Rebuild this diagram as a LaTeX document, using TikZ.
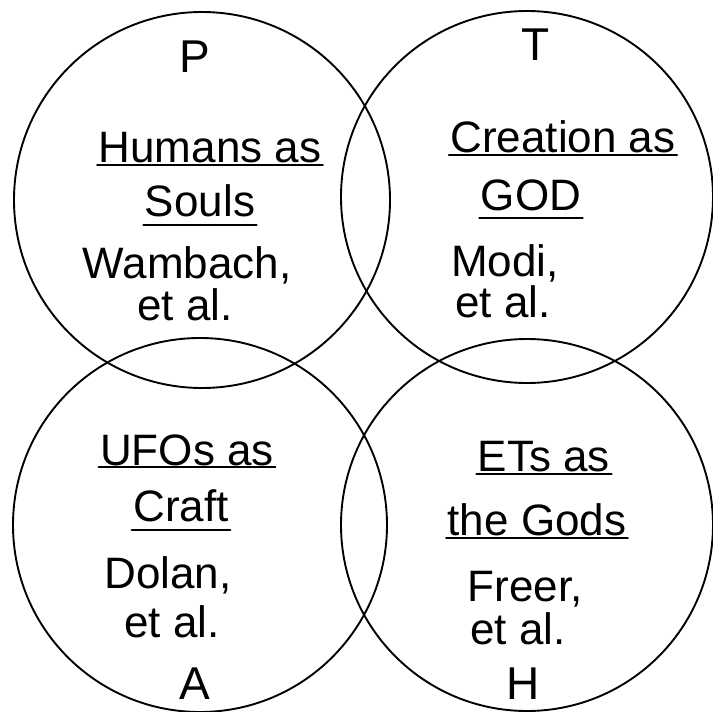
\documentclass[tikz,border=0pt]{standalone}
\usepackage{fontspec}
\setmainfont{Liberation Sans}
\usepackage{tikz}

\tikzset{
  venn/.style={draw, circle, line width=1.9pt, inner sep=0pt},
  hand/.style={inner sep=1.5pt, font=\fontsize{44}{48}\selectfont},
  letter/.style={inner sep=1.5pt, font=\fontsize{46}{50}\selectfont},
  uline/.style={line width=1.8pt, line cap=round}
}

\begin{document}
\begin{tikzpicture}[x=1pt, y=-1pt]

\useasboundingbox (0,0) rectangle (713,712);

% the four sets
\node[venn, minimum size=376pt] (pset) at (202,200) {};
\node[venn, minimum size=372pt] (tset) at (527,197) {};
\node[venn, minimum size=374pt] (aset) at (200,525) {};
\node[venn, minimum size=372pt] (hset) at (527,525) {};

% top left
\node[letter] (p) at (195,57) {P};
\node[hand] (humans) at (210,148) {Humans as};
\node[hand] (souls) at (200,201) {Souls};
\node[hand] (wambach) at (187,265) {Wambach,};
\node[hand] (wetal) at (185,305) {et al.};

% top right
\node[letter] (t) at (536,45) {T};
\node[hand] (creation) at (563,137) {Creation as};
\node[hand] (god) at (531,195) {GOD};
\node[hand] (modi) at (505,263) {Modi,};
\node[hand] (metal) at (503,302) {et al.};

% bottom left
\node[hand] (ufos) at (187,450) {UFOs as};
\node[hand] (craft) at (181,506) {Craft};
\node[hand] (dolan) at (168,575) {Dolan,};
\node[hand] (detal) at (172,622) {et al.};
\node[letter] (a) at (195,684) {A};

% bottom right
\node[hand] (ets) at (544,457) {ETs as};
\node[hand] (gods) at (537,520) {the Gods};
\node[hand] (freer) at (525,589) {Freer,};
\node[hand] (fetal) at (518,629) {et al.};
\node[letter] (h) at (523,684) {H};

% underlines
\foreach \n in {humans,creation,ufos,ets,gods}
  \draw[uline] (\n.south west) -- (\n.south east);
\foreach \n in {souls,god,craft}
  \draw[uline] ([yshift=-6pt]\n.south west) -- ([yshift=-6pt]\n.south east);

\end{tikzpicture}
\end{document}
